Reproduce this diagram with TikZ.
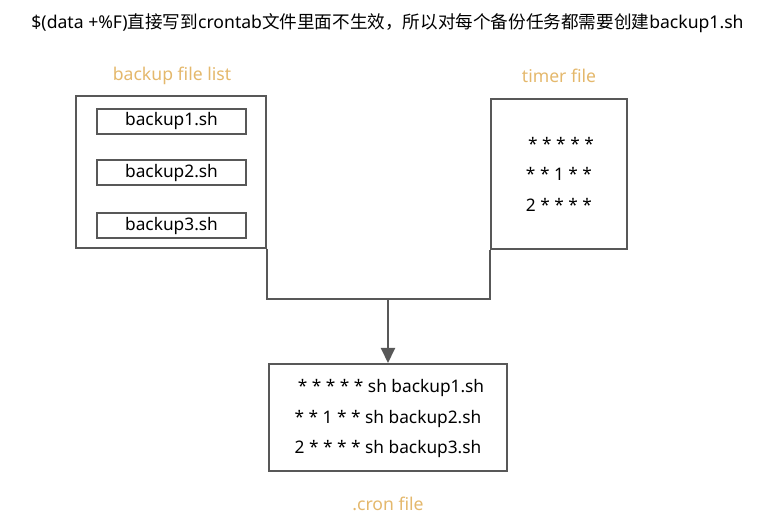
\documentclass[tikz,border=0pt]{standalone}
\usepackage{fontspec}
\setmainfont{Noto Sans}
\newfontfamily\cjk{Noto Sans CJK SC}
\usetikzlibrary{arrows.meta}
\definecolor{linie}{RGB}{88,88,88}
\definecolor{gold}{RGB}{228,184,108}

\begin{document}
\begin{tikzpicture}[x=1pt,y=-1pt,
    datei/.style={draw=linie,line width=2pt,inner sep=0pt},
    titel/.style={text=gold,font=\fontsize{17.6}{20}\selectfont},
    eintrag/.style={font=\fontsize{17.3}{20}\selectfont,align=center},
    link/.style={draw=linie,line width=2pt},
    pfeil/.style={link,-{Triangle[length=15pt,width=14pt]}}]
    \useasboundingbox (0,0) rectangle (769,518);

    % Kopfzeile
    \node[font=\fontsize{17.6}{20}\selectfont] (kopf) at (387.5,23)
        {\$(data +\%F){\cjk 直接写到}crontab{\cjk 文件里面不生效，所以对每个备份任务都需要创建}backup1.sh};

    % links
    \node[titel] (listtitel) at (172,76) {backup file list};
    \node[datei,minimum width=190pt,minimum height=152pt] (liste) at (171,172) {};
    \node[datei,eintrag,minimum width=149pt,minimum height=25pt] (b1) at (171.5,121.5) {\raisebox{-1.5pt}{backup1.sh}};
    \node[datei,eintrag,minimum width=149pt,minimum height=25pt] (b2) at (171.5,173) {\raisebox{-1.5pt}{backup2.sh}};
    \node[datei,eintrag,minimum width=149pt,minimum height=25pt] (b3) at (171.5,226) {\raisebox{-1.5pt}{backup3.sh}};

    % rechts
    \node[titel] (timertitel) at (559,76) {timer file};
    \node[datei,minimum width=136pt,minimum height=150pt] (timer) at (559,174) {};
    \node[eintrag] (t1) at (561,144) {* * * * *};
    \node[eintrag] (t2) at (559,174) {* * 1 * *};
    \node[eintrag] (t3) at (559,205) {2 * * * *};

    % unten
    \node[datei,minimum width=238pt,minimum height=107pt] (cron) at (388,417.5) {};
    \node[eintrag] (c1) at (391,388) {* * * * * sh backup1.sh};
    \node[eintrag] (c2) at (388,419) {* * 1 * * sh backup2.sh};
    \node[eintrag] (c3) at (388,449) {2 * * * * sh backup3.sh};
    \node[titel] (crontitel) at (388,504) {.cron file};

    % Verbindung
    \coordinate (mitte) at (388,299);
    \draw[link] (liste.south east) |- (mitte) -| (timer.south west);
    \draw[pfeil] (mitte) -- (cron.north);
\end{tikzpicture}
\end{document}
